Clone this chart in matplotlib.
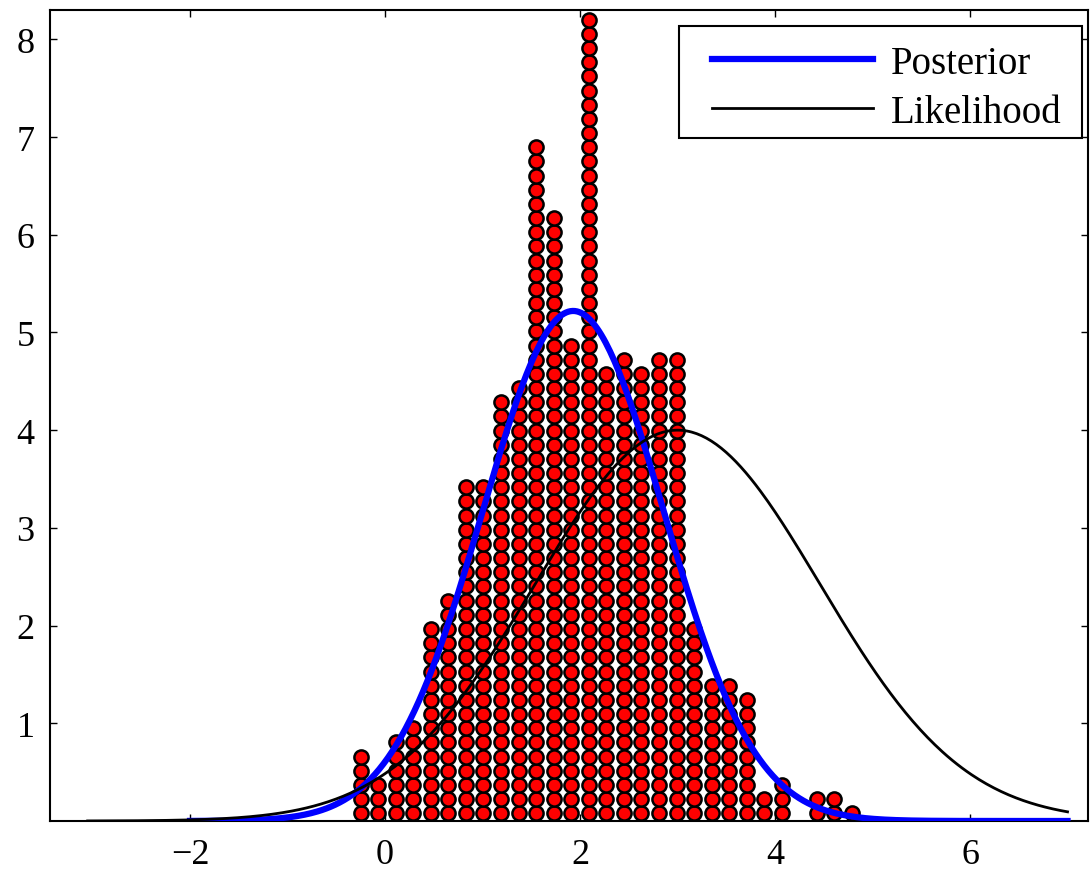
import numpy as np
import matplotlib.pyplot as plt
from matplotlib.patches import Rectangle

plt.rcParams['font.family'] = ['Liberation Serif', 'DejaVu Serif']

# stacked sample dots: column position and number of dots in it
col_x = [-0.25, -0.07, 0.11, 0.29, 0.47, 0.65, 0.83, 1.01, 1.19, 1.37,
         1.55, 1.73, 1.91, 2.09, 2.27, 2.45, 2.63, 2.81, 2.99, 3.17,
         3.35, 3.53, 3.71, 3.89, 4.07, 4.25, 4.43, 4.61, 4.79]
col_n = [5, 3, 6, 7, 14, 16, 24, 24, 30, 31,
         48, 43, 34, 57, 32, 33, 32, 33, 33, 14,
         10, 10, 9, 2, 3, 0, 2, 2, 1]

# gaussian curves (peak height, mean, sd, x range)
post = dict(peak=5.22, mu=1.93, sd=0.93, lo=-2.0, hi=7.0)
lik = dict(peak=4.0, mu=3.0, sd=1.46, lo=-3.05, hi=7.0)

xticks = [-2, 0, 2, 4, 6]
yticks = [1, 2, 3, 4, 5, 6, 7, 8]

step = 0.145
base = 0.08
W, H = 1090, 878

fig = plt.figure(figsize=(W / 100, H / 100), dpi=100)
ax = fig.add_axes([50 / W, 56 / H, 1038 / W, 811 / H])

dx, dy = [], []
for x, n in zip(col_x, col_n):
    for k in range(n):
        dx.append(x)
        dy.append(base + k * step)
ax.plot(dx, dy, 'o', ls='none', ms=10.2, mfc='#ff0000', mec='black', mew=1.8, zorder=2)


def gauss(c):
    xs = np.linspace(c['lo'], c['hi'], 400)
    return xs, c['peak'] * np.exp(-0.5 * ((xs - c['mu']) / c['sd']) ** 2)


xs, ys = gauss(post)
ax.plot(xs, ys, color='#0000ff', lw=4.5, label='Posterior', zorder=3)
xs, ys = gauss(lik)
ax.plot(xs, ys, color='black', lw=2, label='Likelihood', zorder=3)

ax.set_xlim(-3.436, 7.21)
ax.set_ylim(0, 8.30)
ax.set_xticks(xticks)
ax.set_yticks(yticks)
ax.set_xticklabels([str(t).replace('-', '\u2212') for t in xticks])
ax.tick_params(axis='x', pad=12)
ax.tick_params(axis='y', pad=11)
ax.tick_params(direction='in', length=5, width=1, labelsize=26, top=True, right=True)
for s in ax.spines.values():
    s.set_linewidth(1.5)

# legend box drawn separately so its padding can match
box = Rectangle((679 / W, 1 - 139 / H), 403 / W, 112 / H, transform=fig.transFigure,
                facecolor='white', edgecolor='black', lw=1.5, zorder=4, clip_on=False)
ax.add_patch(box)
leg = ax.legend(loc='upper left', bbox_to_anchor=(712 / W, 1 - 46 / H),
                bbox_transform=fig.transFigure, fontsize=28, frameon=False,
                handlelength=4.15, handletextpad=0.45, borderpad=0, labelspacing=0.3,
                borderaxespad=0)
leg.set_zorder(5)

plt.savefig('out.png', dpi=100)
plt.close()
